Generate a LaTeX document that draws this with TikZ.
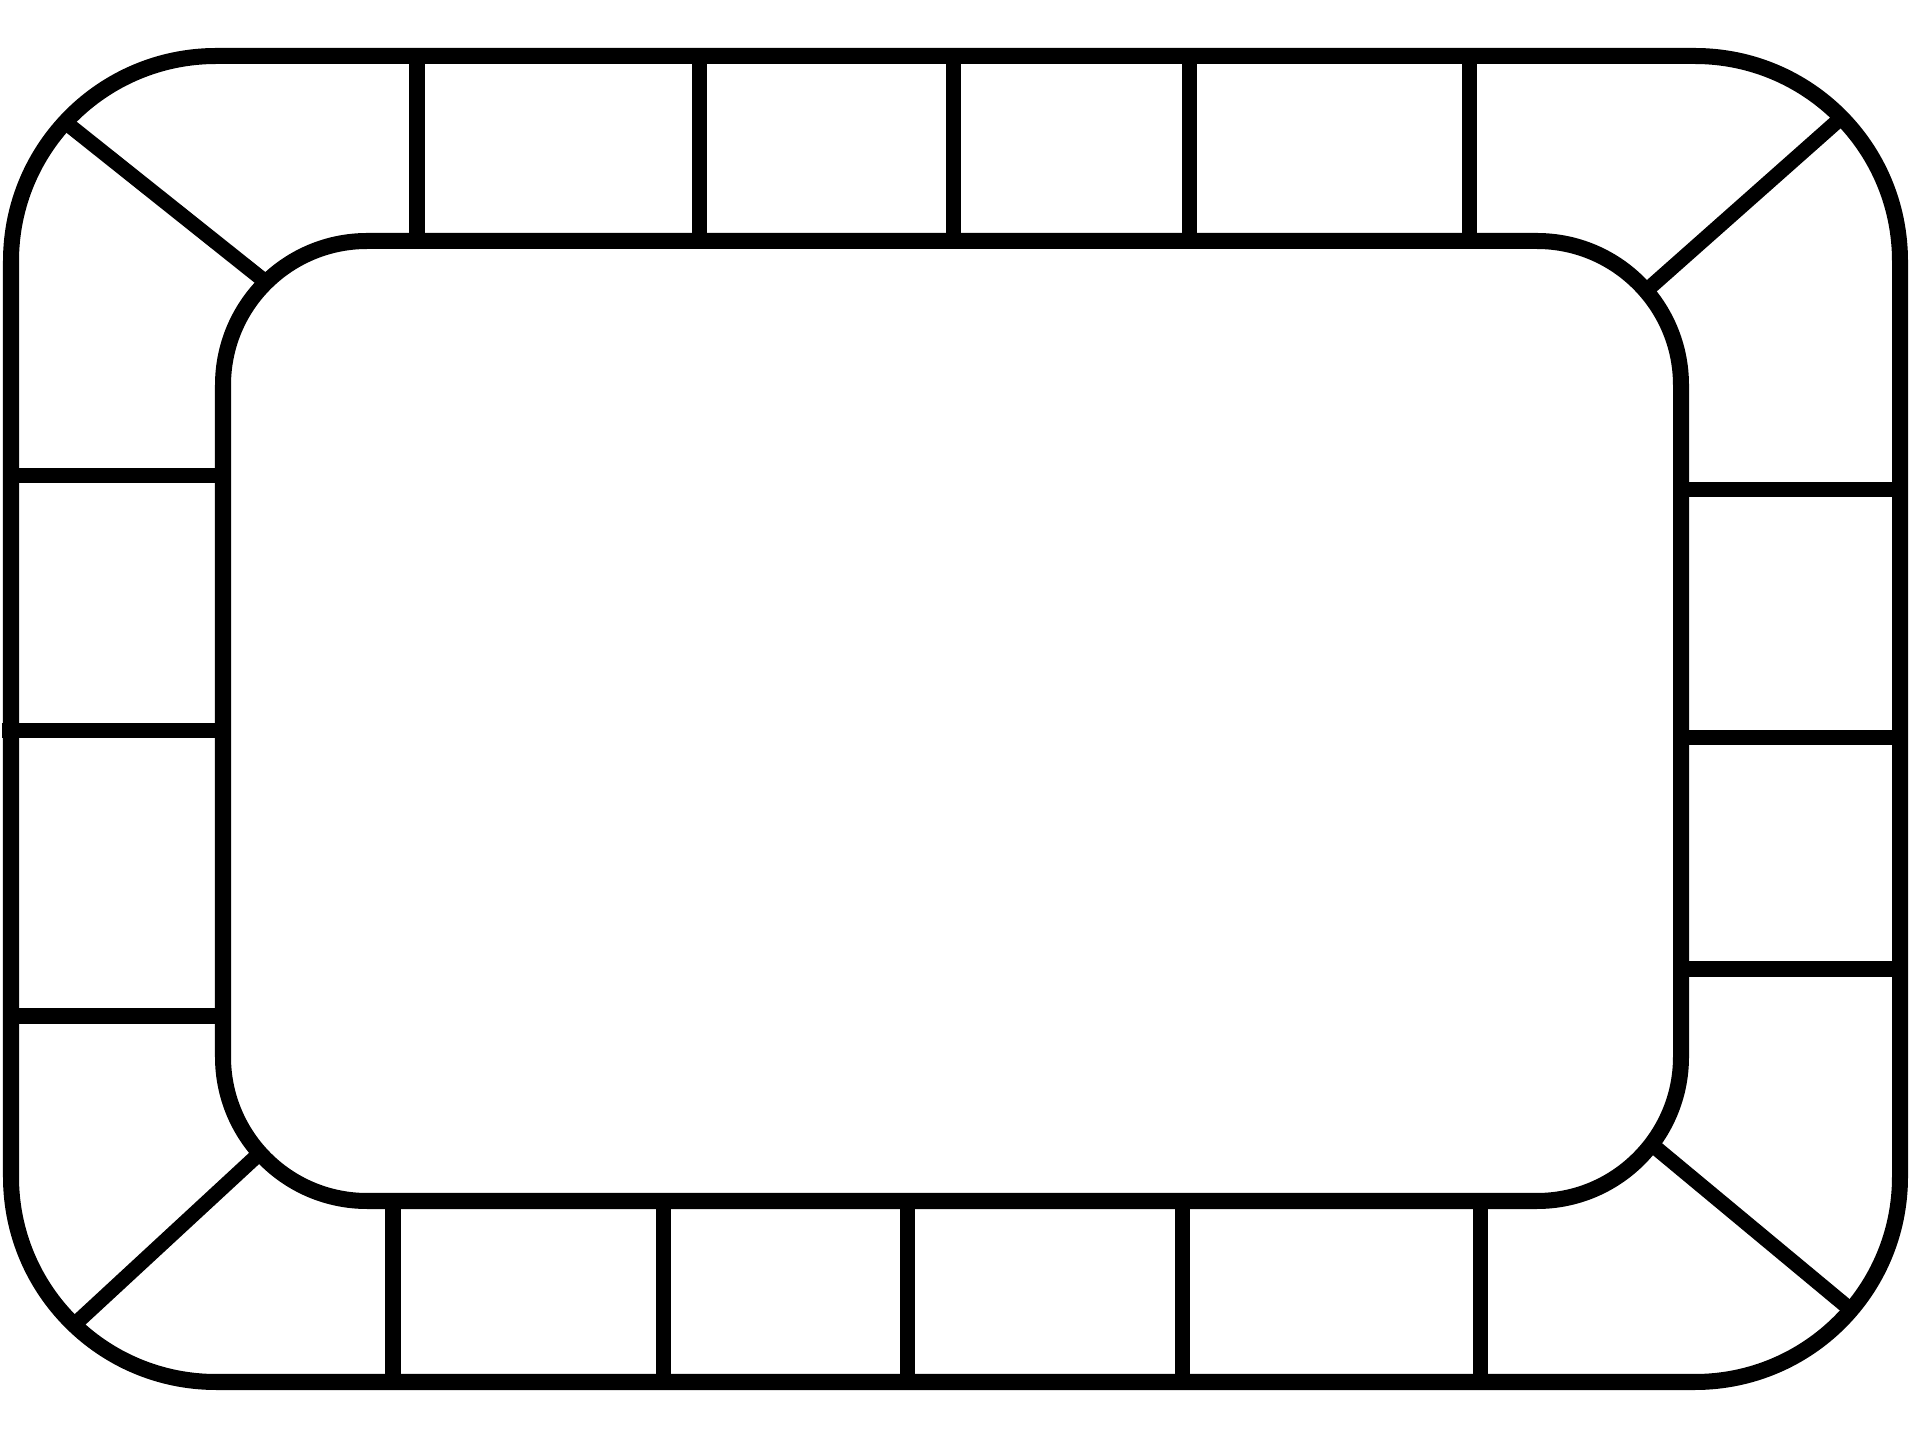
\documentclass[tikz,border=0pt]{standalone}
\usepackage{tikz}

\begin{document}
\begin{tikzpicture}[x=0.01cm,y=-0.01cm,
  rim/.style={line width=0.16cm,black},
  divider/.style={line width=0.15cm,black}]
  \useasboundingbox (0,0) rectangle (1920,1440);

  % outer and inner rims
  \draw[rim,rounded corners=2.05cm] (11,56) rectangle (1900,1382);
  \draw[rim,rounded corners=1.44cm] (223,241) rectangle (1681,1201);

  % top row
  \draw[divider] (417,56) -- (417,241);
  \draw[divider] (699,56) -- (699,241);
  \draw[divider] (953,56) -- (953,241);
  \draw[divider] (1189,56) -- (1189,241);
  \draw[divider] (1469,56) -- (1469,241);

  % bottom row
  \draw[divider] (393,1201) -- (393,1382);
  \draw[divider] (663,1201) -- (663,1382);
  \draw[divider] (907,1201) -- (907,1382);
  \draw[divider] (1182,1201) -- (1182,1382);
  \draw[divider] (1480,1201) -- (1480,1382);

  % left column
  \draw[divider] (11,476) -- (223,476);
  \draw[divider] (2,731) -- (223,731);
  \draw[divider] (11,1016) -- (223,1016);

  % right column
  \draw[divider] (1681,490) -- (1900,490);
  \draw[divider] (1681,738) -- (1900,738);
  \draw[divider] (1681,969) -- (1900,969);

  % corner squares
  \draw[divider] (65,122) -- (267,283);
  \draw[divider] (1841,118) -- (1647,290);
  \draw[divider] (74,1325) -- (260,1153);
  \draw[divider] (1851,1310) -- (1650,1143);
\end{tikzpicture}
\end{document}
